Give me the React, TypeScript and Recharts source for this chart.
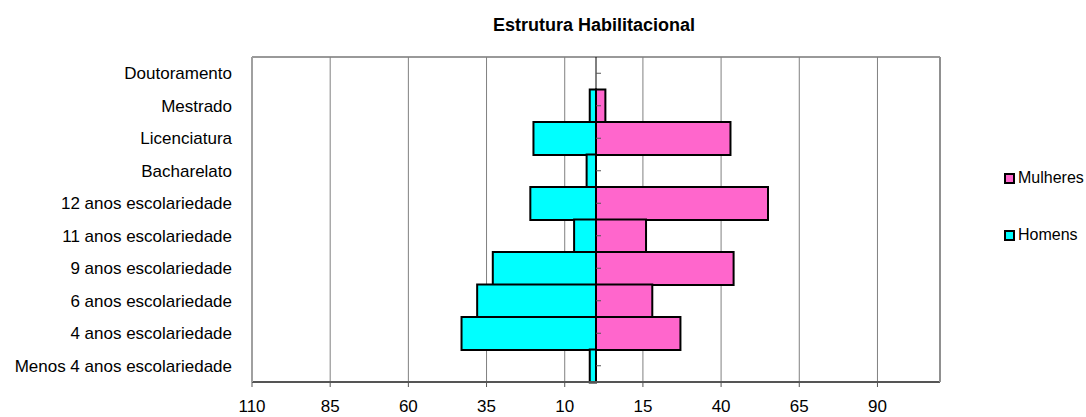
import {
  Bar,
  BarChart,
  CartesianGrid,
  ReferenceLine,
  XAxis,
  YAxis,
} from "recharts"

const categories = [
  "Doutoramento",
  "Mestrado",
  "Licenciatura",
  "Bacharelato",
  "12 anos escolariedade",
  "11 anos escolariedade",
  "9 anos escolariedade",
  "6 anos escolariedade",
  "4 anos escolariedade",
  "Menos 4 anos escolariedade",
]

const homens = [0, 2, 20, 3, 21, 7, 33, 38, 43, 2]
const mulheres = [0, 3, 43, 0, 55, 16, 44, 18, 27, 0]

const xTicks = [-110, -85, -60, -35, -10, 15, 40, 65, 90]

const data = categories.map((name, i) => ({
  name,
  homens: -homens[i],
  mulheres: mulheres[i],
}))

const FONT = "'Liberation Sans', Arial, sans-serif"

const legendItems = [
  { label: "Mulheres", color: "#ff66cc" },
  { label: "Homens", color: "#00ffff" },
]

function LegendBox() {
  return (
    <div
      style={{
        position: "absolute",
        left: 1004,
        top: 169,
        fontFamily: FONT,
        fontSize: 16,
        color: "#000",
      }}
    >
      {legendItems.map((it, i) => (
        <div
          key={it.label}
          style={{
            display: "flex",
            alignItems: "center",
            height: 18,
            marginTop: i === 0 ? 0 : 39,
          }}
        >
          <span
            style={{
              width: 7,
              height: 7,
              border: "2px solid #000",
              background: it.color,
              marginRight: 3,
            }}
          />
          <span>{it.label}</span>
        </div>
      ))}
    </div>
  )
}

export default function App() {
  return (
    <div
      style={{
        position: "absolute",
        left: 0,
        top: 0,
        width: 1086,
        height: 417,
        background: "#fff",
      }}
    >
      <div
        style={{
          position: "absolute",
          left: 394,
          top: 15,
          width: 400,
          textAlign: "center",
          fontFamily: FONT,
          fontWeight: "bold",
          fontSize: 18,
          lineHeight: "20px",
        }}
      >
        Estrutura Habilitacional
      </div>
      <LegendBox />
      <BarChart
        width={1086}
        height={417}
        data={data}
        layout="vertical"
        stackOffset="sign"
        barCategoryGap={0}
        margin={{ top: 57, right: 145, bottom: 5, left: 0 }}
      >
        {/* plot frame: top and bottom edges */}
        <CartesianGrid
          vertical={false}
          stroke="#999"
          strokeWidth={2}
          horizontalCoordinatesGenerator={({ offset }: any) => [
            offset.top,
            offset.top + offset.height,
          ]}
        />
        <CartesianGrid horizontal={false} stroke="#808080" strokeWidth={1} />
        <XAxis
          type="number"
          domain={[-110, 110]}
          ticks={xTicks}
          tickFormatter={(v: number) => String(Math.abs(v))}
          height={30}
          tickSize={5}
          tickMargin={13}
          stroke="#555"
          tick={{ fill: "#000", fontSize: 17, fontFamily: FONT }}
          axisLine={{ stroke: "#555", strokeWidth: 2 }}
        />
        <YAxis
          type="category"
          dataKey="name"
          width={252}
          tickLine={false}
          tickSize={0}
          tickMargin={20}
          interval={0}
          axisLine={{ stroke: "#a0a0a0", strokeWidth: 2 }}
          tick={{ fill: "#000", fontSize: 17, fontFamily: FONT }}
        />
        <YAxis
          yAxisId="right"
          orientation="right"
          type="category"
          dataKey="name"
          width={1}
          tick={false}
          tickLine={false}
          axisLine={{ stroke: "#909090", strokeWidth: 2 }}
        />
        <Bar
          dataKey="homens"
          name="Homens"
          stackId="a"
          fill="#00ffff"
          stroke="#000"
          strokeWidth={2}
          isAnimationActive={false}
        />
        <Bar
          dataKey="mulheres"
          name="Mulheres"
          stackId="a"
          fill="#ff66cc"
          stroke="#000"
          strokeWidth={2}
          isAnimationActive={false}
        />
        <ReferenceLine x={0} stroke="#000" strokeWidth={1} />
        {categories.map((c) => (
          <ReferenceLine
            key={c}
            segment={[
              { x: 0, y: c },
              { x: 1.6, y: c },
            ]}
            stroke="#555"
            strokeWidth={1}
          />
        ))}
      </BarChart>
    </div>
  )
}
